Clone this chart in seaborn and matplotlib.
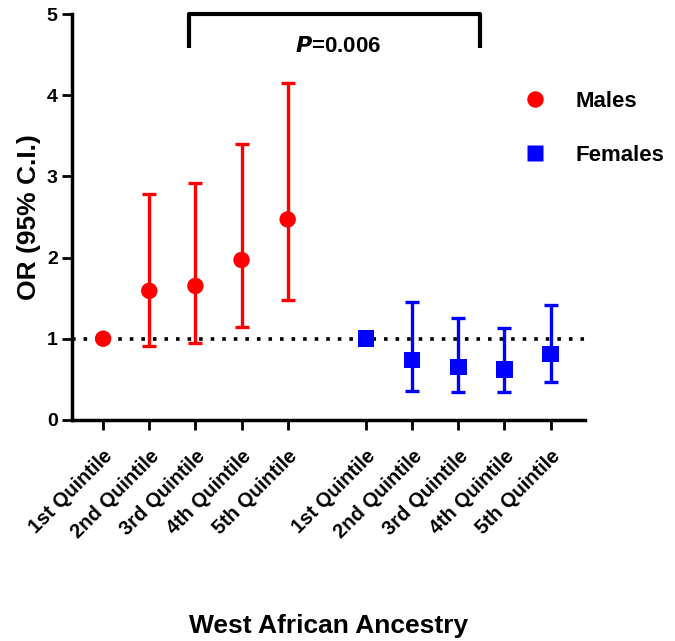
import numpy as np
import pandas as pd
import seaborn as sns
import matplotlib.pyplot as plt

# values
quintiles = ["1st Quintile", "2nd Quintile", "3rd Quintile", "4th Quintile", "5th Quintile"]
male_or = [1.00, 1.59, 1.65, 1.97, 2.47]
male_lo = [1.00, 0.91, 0.95, 1.15, 1.48]
male_hi = [1.00, 2.78, 2.92, 3.40, 4.15]
female_or = [1.00, 0.74, 0.65, 0.62, 0.81]
female_lo = [1.00, 0.36, 0.34, 0.34, 0.47]
female_hi = [1.00, 1.45, 1.26, 1.13, 1.42]
male_pos = [0, 1, 2, 3, 4]
female_pos = [5.7, 6.7, 7.7, 8.7, 9.7]

df = pd.DataFrame({
    "pos": male_pos + female_pos,
    "OR": male_or + female_or,
    "lo": male_lo + female_lo,
    "hi": male_hi + female_hi,
    "sex": ["Males"] * 5 + ["Females"] * 5,
})

sns.set_style("ticks")
plt.rcParams['font.family'] = ['Liberation Sans', 'DejaVu Sans']
plt.rcParams['font.weight'] = 'bold'
for key in ['text.color', 'axes.labelcolor', 'xtick.color', 'ytick.color']:
    plt.rcParams[key] = 'black'

fig = plt.figure(figsize=(6.75, 6.41), dpi=100)
ax = fig.add_axes([0.107, 0.345, 0.76, 0.633])

colors = {"Males": "#ff0000", "Females": "#0000ff"}

ax.axhline(1, color="black", linestyle=(0, (1, 2.2)), linewidth=2.6, zorder=1)

for sex, g in df.groupby("sex"):
    has_ci = g[g["hi"] > g["lo"]]
    ax.errorbar(has_ci["pos"], has_ci["OR"],
                yerr=[has_ci["OR"] - has_ci["lo"], has_ci["hi"] - has_ci["OR"]],
                fmt="none", ecolor=colors[sex], elinewidth=2.4, capsize=5, capthick=2.4, zorder=2)

sns.scatterplot(data=df, x="pos", y="OR", hue="sex", style="sex",
                palette=colors, markers={"Males": "o", "Females": "s"},
                s=140, edgecolor="none", ax=ax, zorder=3)

# significance bracket
ax.plot([1.87, 1.87, 8.17, 8.17], [4.58, 5.0, 5.0, 4.58], color="black", linewidth=3,
        clip_on=False, solid_capstyle="butt")
ax.text(5.1, 4.6, "$\\boldsymbol{P}$=0.006", ha="center", va="center", fontsize=16, fontweight="bold")

ax.set_xlim(-0.67, 10.45)
ax.set_ylim(0, 5)
ax.set_yticks([0, 1, 2, 3, 4, 5])
ax.set_xticks(male_pos + female_pos)
ax.set_xticklabels(quintiles + quintiles, rotation=45, ha="right", rotation_mode="anchor",
                   fontsize=14.5, fontweight="bold")
for lbl in ax.get_yticklabels():
    lbl.set_fontsize(14)
    lbl.set_fontweight("bold")
ax.tick_params(axis="both", length=7, width=2, color="black")
ax.tick_params(axis="x", pad=12)

for side in ["top", "right"]:
    ax.spines[side].set_visible(False)
for side in ["left", "bottom"]:
    ax.spines[side].set_linewidth(2.5)
    ax.spines[side].set_color("black")

ax.set_xlabel("West African Ancestry", fontsize=19, fontweight="bold", labelpad=52)
ax.set_ylabel("OR (95% C.I.)", fontsize=19, fontweight="bold", labelpad=4)

handles, labels = ax.get_legend_handles_labels()
ax.legend(handles, labels, loc="upper left", bbox_to_anchor=(0.82, 0.86), frameon=False,
          fontsize=16, handletextpad=0.8, labelspacing=1.5, markerscale=1.0)

fig.savefig("out.png", dpi=100)
